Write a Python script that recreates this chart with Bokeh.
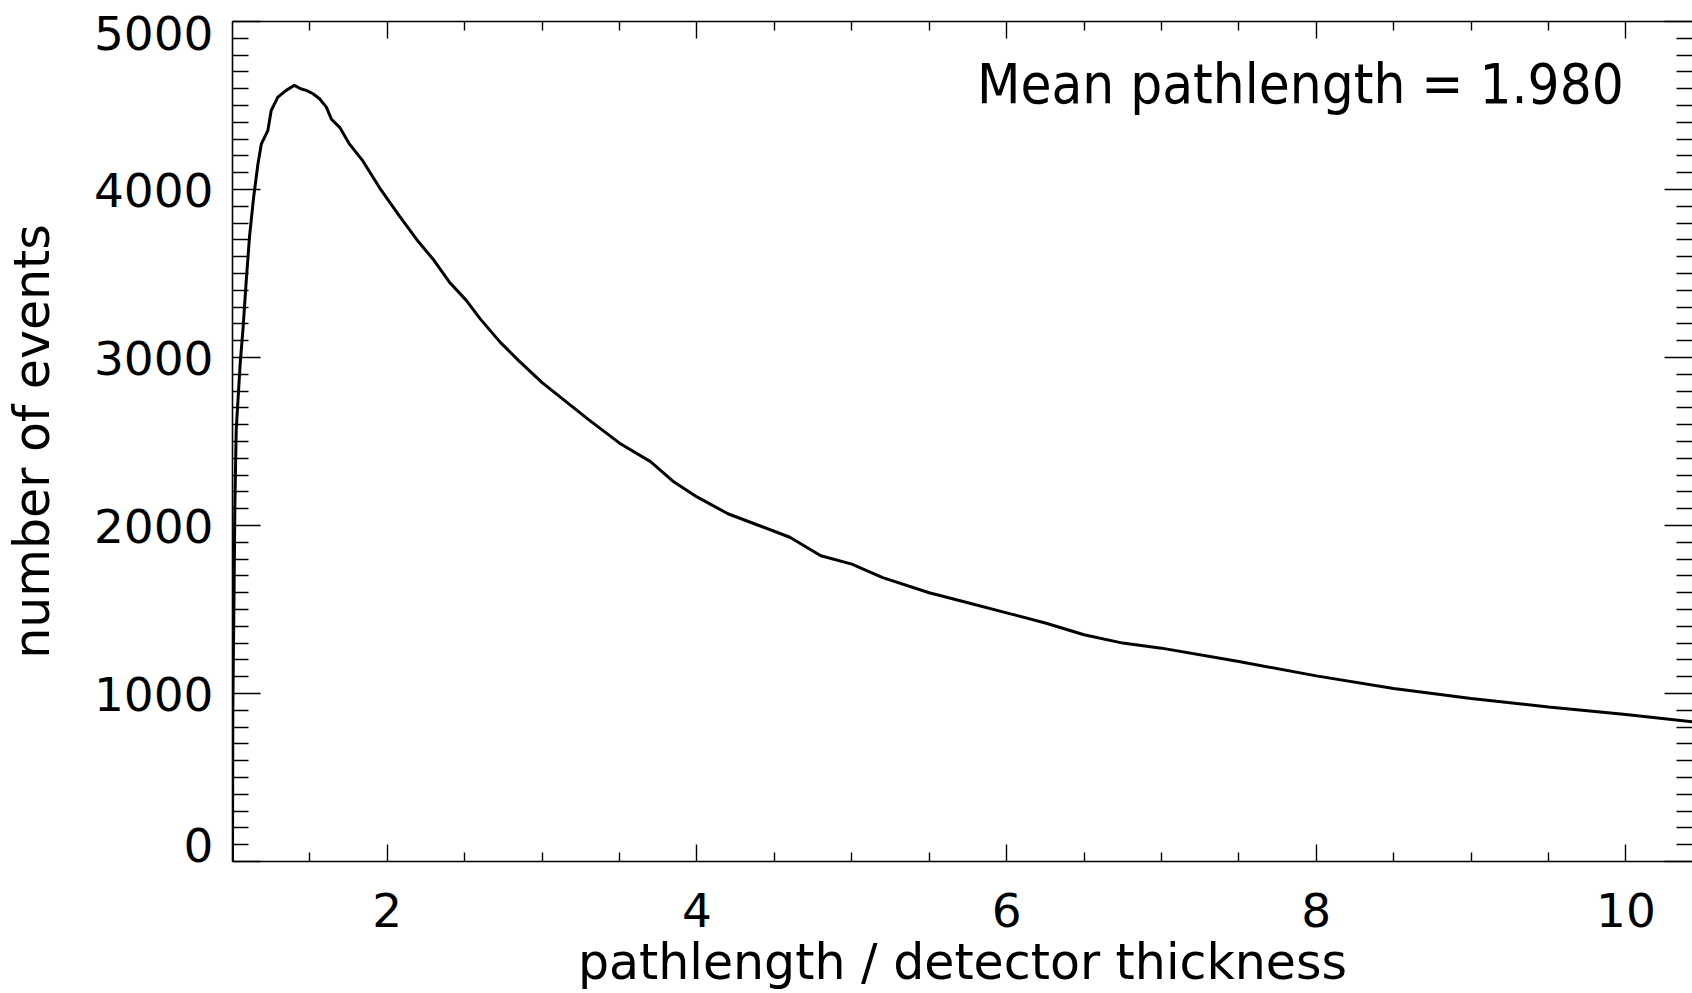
from bokeh.plotting import figure
from bokeh.models import LinearAxis, FixedTicker, Label
from bokeh.embed import file_html
from bokeh.resources import INLINE

# Pathlength histogram (pathlength in units of detector thickness)
pathlength = [1.000, 1.002, 1.010, 1.015, 1.024, 1.050, 1.067, 1.089, 1.110, 1.136,
              1.164, 1.186, 1.228, 1.250, 1.293, 1.347, 1.400, 1.440, 1.477, 1.520,
              1.562, 1.606, 1.638, 1.692, 1.756, 1.842, 1.950, 2.080, 2.200, 2.300,
              2.400, 2.510, 2.600, 2.730, 2.850, 3.000, 3.150, 3.300, 3.500, 3.700,
              3.850, 4.000, 4.200, 4.400, 4.600, 4.800, 5.000, 5.200, 5.500, 5.750,
              6.000, 6.250, 6.500, 6.750, 7.000, 7.500, 8.000, 8.500, 9.000, 9.500,
              10.000, 10.500]
events = [0, 900, 1600, 2100, 2570, 2970, 3160, 3460, 3720, 3950,
          4150, 4270, 4350, 4470, 4550, 4590, 4620, 4600, 4590, 4570,
          4540, 4490, 4420, 4370, 4270, 4170, 4010, 3840, 3690, 3580,
          3450, 3340, 3230, 3090, 2980, 2850, 2740, 2630, 2490, 2380,
          2260, 2170, 2070, 2000, 1930, 1820, 1770, 1690, 1600, 1540,
          1480, 1420, 1350, 1300, 1270, 1190, 1105, 1030, 970, 920,
          875, 825]

x_major = [2, 4, 6, 8, 10]
x_minor = [1.5, 2.5, 3, 3.5, 4.5, 5, 5.5, 6.5, 7, 7.5, 8.5, 9, 9.5, 10.5]
y_major = [0, 1000, 2000, 3000, 4000, 5000]
y_minor = [v for v in range(0, 5001, 100) if v % 1000]
mean_pathlength = 1.980

FONT = "DejaVu Sans"
X_MIN, X_MAX = 1.0, 10.43
Y_MIN, Y_MAX = 0, 5000
HEIGHT, TOP, BOTTOM = 993, 21, 130

p = figure(width=1692, height=HEIGHT, x_range=(X_MIN, X_MAX), y_range=(Y_MIN, Y_MAX),
           output_backend="svg", toolbar_location=None,
           min_border_left=232, min_border_right=0, min_border_top=TOP,
           min_border_bottom=BOTTOM)
p.background_fill_color = "white"
p.border_fill_color = "white"
p.outline_line_color = None
p.xgrid.visible = False
p.ygrid.visible = False


def style_axis(ax, major_in, minor_in):
    ax.axis_line_color = "black"
    ax.axis_line_width = 1.6
    ax.major_tick_line_color = "black"
    ax.major_tick_line_width = 1.4
    ax.minor_tick_line_color = "black"
    ax.minor_tick_line_width = 1.4
    ax.major_tick_in = major_in
    ax.major_tick_out = 0
    ax.minor_tick_in = minor_in
    ax.minor_tick_out = 0


# bottom axis
xa = p.xaxis[0]
xa.ticker = FixedTicker(ticks=x_major, minor_ticks=x_minor)
style_axis(xa, 17, 9)
xa.major_label_text_font = FONT
xa.major_label_text_font_size = "47px"
xa.major_label_text_color = "black"
xa.major_label_standoff = 31
xa.axis_label = "pathlength / detector thickness"
xa.axis_label_text_font = FONT
xa.axis_label_text_font_size = "49px"
xa.axis_label_text_font_style = "normal"
xa.axis_label_text_color = "black"
xa.axis_label_standoff = 4

# left axis: ticks only
ya = p.yaxis[0]
ya.ticker = FixedTicker(ticks=y_major, minor_ticks=y_minor)
style_axis(ya, 28, 16)
ya.major_label_overrides = {t: "" for t in y_major}
ya.major_label_standoff = 0

# left labels: the end values are nudged inward so they stay within the
# frame height (17 px up for the bottom one, 12 px down for the top one)
units_per_px = (Y_MAX - Y_MIN) / (HEIGHT - TOP - BOTTOM)
label_pos = [Y_MIN + 17 * units_per_px] + y_major[1:-1] + [Y_MAX - 12 * units_per_px]
labels = LinearAxis(ticker=FixedTicker(ticks=label_pos, minor_ticks=[]))
labels.axis_line_color = None
labels.major_tick_line_color = None
labels.major_tick_in = 0
labels.major_tick_out = 0
labels.major_label_overrides = {pos: str(v) for pos, v in zip(label_pos, y_major)}
labels.major_label_text_font = FONT
labels.major_label_text_font_size = "47px"
labels.major_label_text_color = "black"
labels.major_label_standoff = 19
labels.axis_label = "number of events"
labels.axis_label_text_font = FONT
labels.axis_label_text_font_size = "49px"
labels.axis_label_text_font_style = "normal"
labels.axis_label_text_color = "black"
labels.axis_label_standoff = 30
p.add_layout(labels, "left")

# top and right axes: ticks only
top = LinearAxis(ticker=FixedTicker(ticks=x_major, minor_ticks=x_minor))
style_axis(top, 17, 9)
top.major_label_overrides = {t: "" for t in x_major}
top.major_label_standoff = 0
p.add_layout(top, "above")

right = LinearAxis(ticker=FixedTicker(ticks=y_major, minor_ticks=y_minor))
style_axis(right, 28, 16)
right.axis_line_color = None
right.major_label_overrides = {t: "" for t in y_major}
right.major_label_standoff = 0
p.add_layout(right, "right")

p.line(pathlength, events, line_color="black", line_width=3)

p.add_layout(Label(x=5.808, y=4630, text=f"Mean pathlength = {mean_pathlength:.3f}",
                   text_font="DejaVu Sans Condensed", text_font_size="56px",
                   text_color="black", text_align="left",
                   text_baseline="alphabetic"))

open("out.html", "w").write(file_html(p, INLINE))
